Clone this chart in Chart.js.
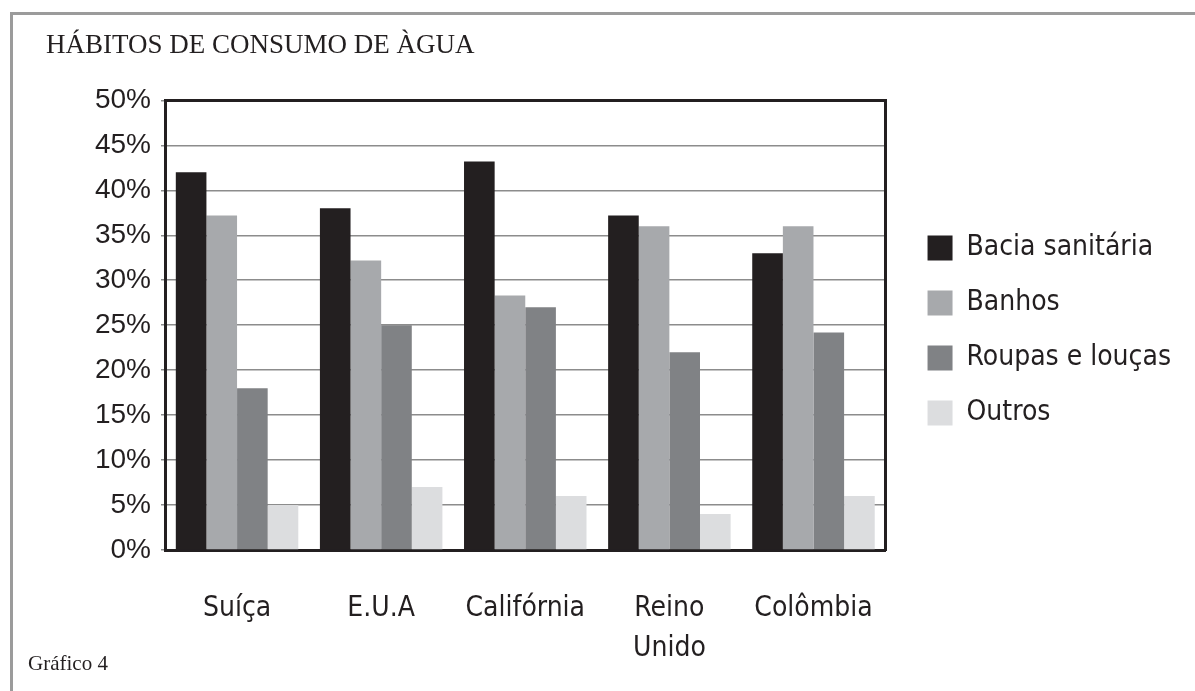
<!DOCTYPE html>
<html><head><meta charset="utf-8">
<script src="https://cdn.jsdelivr.net/npm/chart.js@4/dist/chart.umd.min.js"></script>
<style>
html,body{margin:0;padding:0;background:#fff;}
#wrap{position:relative;width:1195px;height:691px;overflow:hidden;}
#frame{position:absolute;left:10px;top:12px;right:-5px;bottom:-5px;border-left:3px solid #9b9b9b;border-top:3px solid #9b9b9b;}
canvas{position:absolute;left:0;top:0;}
</style></head><body>
<div id="wrap"><div id="frame"></div><canvas id="c" width="1195" height="691"></canvas></div>
<script>
const titleText = 'HÁBITOS DE CONSUMO DE ÀGUA';
const captionText = 'Gráfico 4';
const categories = ['Suíça', 'E.U.A', 'Califórnia', ['Reino', 'Unido'], 'Colômbia'];
const seriesNames = ['Bacia sanitária', 'Banhos', 'Roupas e louças', 'Outros'];
const baciaSanitaria = [42, 38, 43.2, 37.2, 33];
const banhos = [37.2, 32.2, 28.3, 36, 36];
const roupasELoucas = [18, 25, 27, 22, 24.2];
const outros = [5, 7, 6, 4, 6];
const yTickValues = [0, 5, 10, 15, 20, 25, 30, 35, 40, 45, 50];
const seriesColors = ['#231f20', '#a7a9ac', '#808285', '#dcdddf'];

const INK = '#231f20';
const NARROW = "'DejaVu Sans Condensed', 'Liberation Sans Narrow', sans-serif";
const seriesData = [baciaSanitaria, banhos, roupasELoucas, outros];

const captionPlugin = {
  id: 'caption',
  afterLayout(chart) {
    const lg = chart.legend;
    if (lg) { lg.bottom -= 30; lg.height -= 30; }
  },
  afterDraw(chart) {
    const ctx = chart.ctx;
    ctx.save();
    ctx.font = '21px "Liberation Serif"';
    ctx.fillStyle = INK;
    ctx.textBaseline = 'alphabetic';
    ctx.textAlign = 'left';
    ctx.fillText(captionText, 28, 670);
    ctx.restore();
  }
};

new Chart(document.getElementById('c'), {
  type: 'bar',
  data: {
    labels: categories,
    datasets: seriesNames.map((name, i) => ({
      label: name,
      data: seriesData[i],
      backgroundColor: seriesColors[i],
      borderWidth: 0,
      categoryPercentage: 0.85,
      barPercentage: 1.0
    }))
  },
  options: {
    responsive: false,
    animation: false,
    devicePixelRatio: 1,
    layout: { padding: { left: 46, right: 14, top: 0, bottom: 0 } },
    plugins: {
      title: {
        display: true,
        text: titleText,
        align: 'start',
        color: INK,
        font: { family: "'Liberation Serif', serif", size: 27, weight: 'normal', lineHeight: 1.2 },
        padding: { top: 30, bottom: 38 }
      },
      legend: {
        position: 'right',
        maxWidth: 400,
        labels: {
          boxWidth: 25,
          boxHeight: 25,
          padding: 27,
          color: INK,
          font: { family: NARROW, size: 28 }
        }
      },
      tooltip: { enabled: false }
    },
    scales: {
      x: {
        grid: { display: false, drawTicks: false },
        border: { display: true, width: 3, color: INK },
        ticks: { color: INK, padding: 39, font: { family: NARROW, size: 28, lineHeight: 40 / 28 } },
        afterFit(s) { s.height = 141; }
      },
      y: {
        min: 0,
        max: 50,
        afterBuildTicks(s) { s.ticks = yTickValues.map(v => ({ value: v })); },
        ticks: {
          color: INK,
          padding: 10,
          font: { family: "'Liberation Sans', Arial, sans-serif", size: 28 },
          callback: v => v + '%'
        },
        grid: { color: '#8c8c8c', lineWidth: 1.5, tickLength: 4, tickColor: '#8c8c8c' },
        border: { display: true, width: 3, color: INK },
        afterFit(s) { s.width = 119; }
      },
      x2: {
        type: 'category',
        position: 'top',
        labels: categories,
        grid: { display: false, drawTicks: false },
        ticks: { display: false },
        border: { display: true, width: 3, color: INK },
        afterFit(s) { s.height = 0; }
      },
      y2: {
        position: 'right',
        min: 0,
        max: 50,
        grid: { display: false, drawTicks: false },
        ticks: { display: false },
        border: { display: true, width: 3, color: INK },
        afterFit(s) { s.width = 15; }
      }
    }
  },
  plugins: [captionPlugin]
});
</script>
</body></html>
